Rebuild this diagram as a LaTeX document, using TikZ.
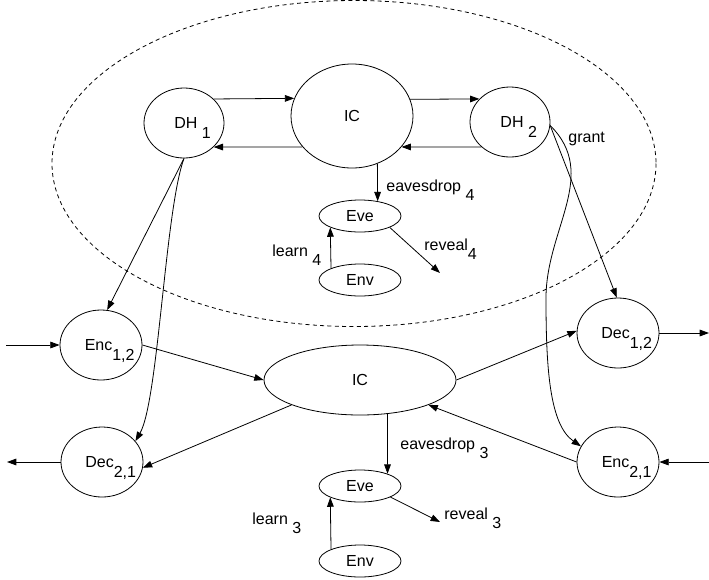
\documentclass[tikz,border=0pt]{standalone}
\usepackage{fontspec}
\setmainfont{Liberation Sans}
\usetikzlibrary{shapes.geometric,arrows.meta}

\newcommand{\dn}[1]{\raisebox{-7pt}{#1}}
\newcommand{\rt}[1]{\makebox[0pt]{\hspace{13pt}#1}}

\tikzset{every picture/.style={line width=0.6pt}}
\tikzset{
	proc/.style={draw, ellipse, inner sep=0pt, text height=12pt, text depth=3.4pt,
		font=\fontsize{12pt}{14pt}\selectfont},
	dhnode/.style={minimum width=60pt, minimum height=52.5pt},
	icbig/.style={minimum width=91.5pt, minimum height=78pt},
	iclow/.style={minimum width=144pt, minimum height=52.5pt},
	encdec/.style={minimum width=61.5pt, minimum height=52.5pt},
	small/.style={minimum width=61.5pt, minimum height=24pt},
	arr/.style={-{Triangle[length=7pt,width=5pt]}},
	lab/.style={anchor=base west, inner sep=0pt, font=\fontsize{12pt}{14pt}\selectfont}}

\begin{document}
\begin{tikzpicture}[x=0.75pt,y=0.75pt,yscale=-1,xscale=1]
	\useasboundingbox (0,0) rectangle (709,579);

	%Shape: Ellipse (dashed boundary)
	\draw [dash pattern={on 3pt off 2.5pt}] (354,163.5) ellipse (302 and 163);

	%Key exchange part
	\node [proc,dhnode] (DH1) at (184,123) {\rt{DH \dn{1}}};
	\node [proc,icbig] (IC1) at (352,116) {IC};
	\node [proc,dhnode] (DH2) at (510,122) {\rt{DH \dn{2}}};
	\node [proc,small] (Eve1) at (360,216) {Eve};
	\node [proc,small] (Env1) at (360,280) {Env};

	%Secure channel part
	\node [proc,encdec] (Enc12) at (101,345) {\rt{Enc\dn{1,2}}};
	\node [proc,encdec] (Dec21) at (102,462) {\rt{Dec\dn{2,1}}};
	\node [proc,iclow] (IC2) at (360,380) {IC};
	\node [proc,encdec] (Dec12) at (618,333) {\rt{Dec\dn{1,2}}};
	\node [proc,encdec] (Enc21) at (618,462) {\rt{Enc\dn{2,1}}};
	\node [proc,small] (Eve2) at (360,486) {Eve};
	\node [proc,small] (Env2) at (360,561) {Env};

	%free ends
	\coordinate (inL) at (6,345);
	\coordinate (outL) at (7,462);
	\coordinate (outR) at (709,333);
	\coordinate (inR) at (709,462);
	\coordinate (rev4) at (440,273);
	\coordinate (rev3) at (440,522);

	%Straight Lines (top)
	\draw [arr] (DH1.39.5) -- (IC1.163.6);
	\draw [arr] (IC1.212.3) -- (DH1.-39.5);
	\draw [arr] (IC1.16.4) -- (DH2.143.3);
	\draw [arr] (DH2.221) -- (IC1.-32.3);
	\draw [arr] (IC1.-62.2) -- (Eve1.40.6);
	\draw [arr] (Env1.158.7) -- (Eve1.201.3);
	\draw [arr] (Eve1.-21.3) -- (rev4);

	%grants
	\draw [arr] (DH1.south) -- (Enc12.80);
	\draw [arr] (DH1.south) .. controls +(-19,52) and +(23,-40) .. (Dec21.32);
	\draw [arr] (DH2.-5) -- (Dec12.92);
	\draw [arr] (DH2.-5) .. controls (600,175) and (545,230) .. (546,300) .. controls (546,370) and (550,425) .. (Enc21.157);

	%Straight Lines (bottom)
	\draw [arr] (inL) -- (Enc12.west);
	\draw [arr] (Enc12.east) -- (IC2.west);
	\draw [arr] (IC2.200.4) -- (Dec21.-8);
	\draw [arr] (Dec21.west) -- (outL);
	\draw [arr] (IC2.east) -- (Dec12.177);
	\draw [arr] (Dec12.east) -- (outR);
	\draw [arr] (inR) -- (Enc21.east);
	\draw [arr] (Enc21.west) -- (IC2.-20.2);
	\draw [arr] (IC2.-51.2) -- (Eve2.24);
	\draw [arr] (Env2.158.7) -- (Eve2.201.3);
	\draw [arr] (Eve2.-20) -- (rev3);

	% Text Node
	\node [lab] (tEaves4) at (386,191) {eavesdrop \dn{4}};
	% Text Node
	\node [lab] (tLearn4) at (272,256) {learn \dn{4}};
	% Text Node
	\node [lab] (tReveal4) at (424,250) {reveal\dn{4}};
	% Text Node
	\node [lab] (tGrant) at (568,142) {grant};
	% Text Node
	\node [lab] (tEaves3) at (400,449) {eavesdrop \dn{3}};
	% Text Node
	\node [lab] (tLearn3) at (252,524) {learn \dn{3}};
	% Text Node
	\node [lab] (tReveal3) at (444,519) {reveal \dn{3}};

\end{tikzpicture}
\end{document}
